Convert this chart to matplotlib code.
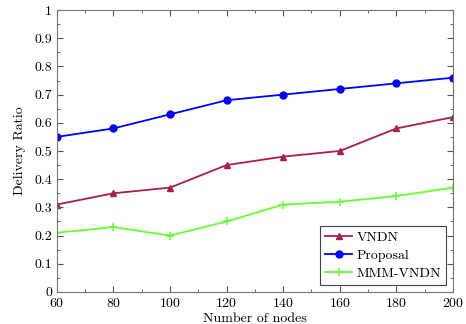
import matplotlib
matplotlib.use("Agg")
import matplotlib.pyplot as plt
from matplotlib.ticker import MultipleLocator

plt.rcParams['font.family'] = 'serif'
plt.rcParams['font.serif'] = ['cmr10', 'DejaVu Serif']
plt.rcParams['axes.formatter.use_mathtext'] = True
plt.rcParams['mathtext.fontset'] = 'cm'

nodes = [60, 80, 100, 120, 140, 160, 180, 200]
vndn = [0.31, 0.35, 0.37, 0.45, 0.48, 0.50, 0.58, 0.62]
proposal = [0.55, 0.58, 0.63, 0.68, 0.70, 0.72, 0.74, 0.76]
mmm_vndn = [0.21, 0.23, 0.20, 0.25, 0.31, 0.32, 0.34, 0.37]

fig = plt.figure(figsize=(4.66, 3.24), dpi=100)
ax = fig.add_axes([0.122, 0.099, 0.85, 0.87])

ax.plot(nodes, vndn, color="#a8204a", marker="^", markersize=5, lw=1.3, label="VNDN")
ax.plot(nodes, proposal, color="#0000ff", marker="o", markersize=5, lw=1.3, label="Proposal")
ax.plot(nodes, mmm_vndn, color="#66ff33", marker="+", markersize=6, mew=1.2, lw=1.3, label="MMM-VNDN")

ax.set_xlim(60, 200)
ax.set_ylim(0, 1)
ax.xaxis.set_major_locator(MultipleLocator(20))
ax.xaxis.set_minor_locator(MultipleLocator(10))
ax.yaxis.set_major_locator(MultipleLocator(0.1))
ax.yaxis.set_minor_locator(MultipleLocator(0.05))
ax.set_yticks([0, 0.1, 0.2, 0.3, 0.4, 0.5, 0.6, 0.7, 0.8, 0.9, 1])
ax.set_yticklabels(["0", "0.1", "0.2", "0.3", "0.4", "0.5", "0.6", "0.7", "0.8", "0.9", "1"])
ax.tick_params(which="both", direction="in", top=True, right=True, colors="#555555", labelcolor="black", labelsize=10)
ax.tick_params(which="major", length=4)
ax.tick_params(which="minor", length=2)
for s in ax.spines.values():
    s.set_color("#777777")

ax.set_xlabel("Number of nodes", fontsize=10, labelpad=2)
ax.set_ylabel("Delivery Ratio", fontsize=10, labelpad=6)

leg = ax.legend(loc="lower right", fontsize=10, fancybox=False, framealpha=1,
                edgecolor="#444444", borderpad=0.35, labelspacing=0.4, handlelength=2.0,
                handletextpad=0.3, borderaxespad=0.5)
leg.get_frame().set_linewidth(0.8)

fig.savefig("out.png", dpi=100)
